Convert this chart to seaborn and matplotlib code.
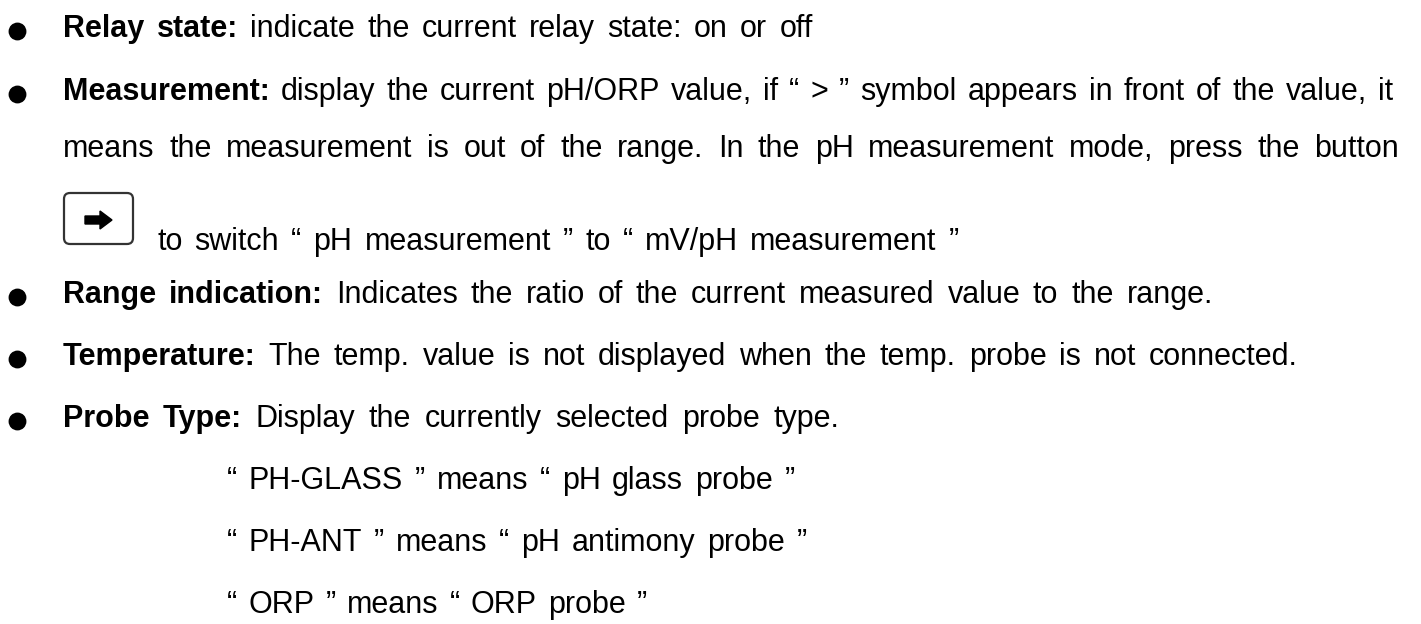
import matplotlib
matplotlib.use("Agg")
import matplotlib.pyplot as plt
import seaborn as sns
from matplotlib.patches import FancyBboxPatch, Polygon

sns.set_theme(style="white")
plt.rcParams['font.family'] = ['Liberation Sans', 'DejaVu Sans']

# text of the page
bullet_labels = ["Relay state:", "Measurement:", "Range indication:", "Temperature:", "Probe Type:"]
bullet_texts = [
    "indicate the current relay state: on or off",
    "display the current pH/ORP value, if \u201c > \u201d symbol appears in front of the value, it",
    "Indicates the ratio of the current measured value to the range.",
    "The temp. value is not displayed when the temp. probe is not connected.",
    "Display the currently selected probe type.",
]
measurement_more = [
    "means the measurement is out of the range. In the pH measurement mode, press the button",
    "to switch \u201c pH measurement \u201d to \u201c mV/pH measurement \u201d",
]
probe_lines = [
    "\u201c PH-GLASS \u201d means \u201c pH glass probe \u201d",
    "\u201c PH-ANT \u201d means \u201c pH antimony probe \u201d",
    "\u201c ORP \u201d means \u201c ORP probe \u201d",
]

FS = 22
W, H = 1421, 624
# the page is drawn a little wider than the font: spread the words out
STRETCH = 32.0 / (FS * 100 / 72)

fig = plt.figure(figsize=(W / 100, H / 100), dpi=100)
ax = fig.add_axes([0, 0, 1, 1])
ax.set_xlim(0, W)
ax.set_ylim(H, 0)
ax.axis('off')
fig.canvas.draw()
renderer = fig.canvas.get_renderer()


def width_of(s, bold=False):
    t = ax.text(0, 0, s, fontsize=FS, fontweight='bold' if bold else 'normal')
    w = t.get_window_extent(renderer).width
    t.remove()
    return w


space = width_of("a a") - width_of("aa")


def place_line(y, x0, runs, right=None):
    words = []
    for s, bold in runs:
        for w in s.split():
            words.append((w, bold))
    objs = [ax.text(0, y, w, fontsize=FS, fontweight='bold' if b else 'normal',
                    va='baseline', ha='left', color='black') for w, b in words]
    widths = [o.get_window_extent(renderer).width for o in objs]
    natural = sum(widths) + space * (len(objs) - 1)
    if right is None:
        right = x0 + natural * STRETCH
    gap = (right - x0 - sum(widths)) / (len(objs) - 1)
    x = x0
    for o, w in zip(objs, widths):
        o.set_x(x)
        x += w + gap


X0 = 63
baselines = [37, 100, 157, 250, 303, 365, 427, 489, 551, 613]

# bullets
place_line(baselines[0], X0, [(bullet_labels[0], True), (bullet_texts[0], False)])
place_line(baselines[1], X0, [(bullet_labels[1], True), (bullet_texts[1], False)], right=1393)
place_line(baselines[2], X0, [(measurement_more[0], False)], right=1399)
place_line(baselines[3], 157, [(measurement_more[1], False)])
for i, k in zip([2, 3, 4], [4, 5, 6]):
    place_line(baselines[k], X0, [(bullet_labels[i], True), (bullet_texts[i], False)])
for j, line in enumerate(probe_lines):
    place_line(baselines[7 + j], 227, [(line, False)])

bullet_rows = [0, 1, 4, 5, 6]
ax.scatter([17] * len(bullet_rows), [baselines[k] - 6 for k in bullet_rows],
           s=165, color='black', linewidths=0, zorder=3)

# button with arrow
ax.add_patch(FancyBboxPatch((64, 193), 69, 51, boxstyle="round,pad=0,rounding_size=6",
                            facecolor='white', edgecolor='#333333', linewidth=1.6))
ax.add_patch(Polygon([(85, 216), (100, 216), (100, 211), (112, 220), (100, 229),
                      (100, 224), (85, 224)], closed=True, color='black'))

fig.savefig("out.png", dpi=100)
